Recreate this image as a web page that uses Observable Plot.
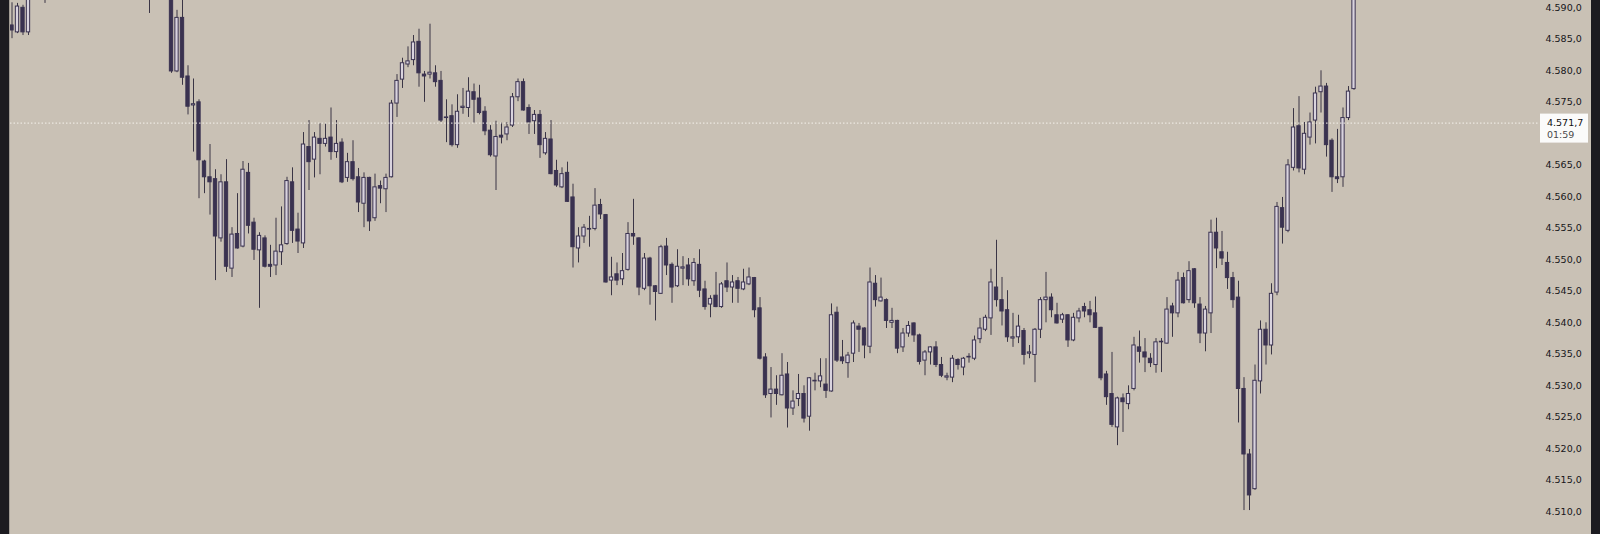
<!DOCTYPE html>
<html>
<head>
<meta charset="utf-8">
<script src="https://cdn.jsdelivr.net/npm/d3@7"></script>
<script src="https://cdn.jsdelivr.net/npm/@observablehq/plot@0.6"></script>
<style>
  html, body { margin: 0; padding: 0; background: #1c1b20; }
  #chart { width: 1600px; height: 534px; overflow: hidden; }
  #chart svg { display: block; }
</style>
</head>
<body>
<div id="chart"></div>
<script>
// candle index (bar number), open, high, low, close
const idx = [0,1,2,3,6,25,29,30,31,32,33,34,35,36,37,38,39,40,41,42,43,44,45,46,47,48,49,50,51,52,53,54,55,56,57,58,59,60,61,62,63,64,65,66,67,68,69,70,71,72,73,74,75,76,77,78,79,80,81,82,83,84,85,86,87,88,89,90,91,92,93,94,95,96,97,98,99,100,101,102,103,104,105,106,107,108,109,110,111,112,113,114,115,116,117,118,119,120,121,122,123,124,125,126,127,128,129,130,131,132,133,134,135,136,137,138,139,140,141,142,143,144,145,146,147,148,149,150,151,152,153,154,155,156,157,158,159,160,161,162,163,164,165,166,167,168,169,170,171,172,173,174,175,176,177,178,179,180,181,182,183,184,185,186,187,188,189,190,191,192,193,194,195,196,197,198,199,200,201,202,203,204,205,206,207,208,209,210,211,212,213,214,215,216,217,218,219,220,221,222,223,224,225,226,227,228,229,230,231,232,233,234,235,236,237,238,239,240,241,242,243,244];
const open = [4587.2,4586.1,4590.0,4586.1,4595.0,4596.0,4593.0,4579.9,4588.4,4579.1,4574.5,4575.0,4565.6,4563.1,4562.8,4553.4,4562.3,4548.6,4554.1,4552.1,4563.8,4555.9,4551.5,4553.4,4549.2,4549.1,4551.2,4552.5,4562.3,4554.8,4552.6,4567.9,4565.9,4569.2,4568.4,4569.4,4567.1,4568.6,4563.0,4565.5,4563.1,4558.9,4563.0,4556.6,4561.7,4561.2,4563.1,4574.8,4578.6,4581.0,4581.7,4584.6,4579.4,4579.4,4579.6,4578.4,4572.5,4572.8,4568.2,4574.1,4574.1,4576.6,4575.6,4573.5,4570.5,4566.4,4569.7,4569.9,4571.3,4575.8,4578.2,4574.1,4572.0,4573.0,4566.9,4569.1,4564.1,4561.5,4563.8,4559.9,4551.8,4553.7,4554.9,4554.9,4558.7,4557.1,4546.7,4547.7,4546.9,4548.4,4554.1,4553.4,4545.4,4550.2,4545.8,4544.6,4552.1,4549.2,4545.8,4548.6,4549.1,4546.6,4549.2,4545.3,4542.9,4544.3,4542.5,4546.6,4545.6,4546.6,4545.3,4546.1,4547.1,4542.3,4534.5,4528.7,4529.4,4528.5,4531.8,4526.4,4527.9,4528.7,4525.1,4530.7,4530.7,4530.2,4529.1,4541.6,4534.5,4533.6,4535.1,4539.4,4539.1,4536.2,4546.2,4543.4,4543.6,4540.0,4540.3,4536.1,4538.3,4539.9,4538.0,4534.0,4535.3,4536.1,4533.3,4531.3,4531.3,4534.1,4532.9,4534.5,4534.3,4537.4,4538.9,4540.7,4545.6,4543.6,4542.0,4537.5,4537.7,4538.7,4535.1,4534.9,4538.9,4543.6,4544.0,4541.2,4540.5,4541.2,4537.2,4540.7,4542.5,4542.0,4541.5,4539.2,4531.8,4528.7,4523.4,4528.0,4527.1,4529.5,4536.1,4535.3,4534.3,4533.3,4536.9,4536.7,4542.6,4541.5,4547.1,4543.6,4548.5,4542.9,4538.3,4541.5,4554.3,4551.2,4549.5,4547.1,4544.0,4529.5,4519.1,4513.6,4530.7,4538.9,4536.4,4544.8,4558.2,4554.6,4564.6,4571.2,4564.3,4569.4,4572.1,4576.6,4577.5,4568.9,4563.1,4563.1,4572.5,4577.1];
const high = [4590.8,4590.7,4590.4,4593.0,4597.0,4598.0,4595.0,4589.6,4591.7,4580.8,4578.7,4575.4,4565.8,4568.3,4564.3,4563.5,4565.9,4555.1,4560.5,4565.6,4565.3,4556.6,4554.3,4553.8,4552.3,4556.6,4558.4,4563.1,4564.6,4557.4,4570.2,4572.1,4570.2,4571.6,4571.6,4574.1,4572.1,4569.2,4566.9,4568.9,4564.5,4563.8,4563.1,4563.6,4562.5,4563.6,4575.3,4579.4,4582.0,4583.8,4585.6,4586.6,4579.9,4587.4,4580.8,4579.9,4575.4,4574.6,4576.2,4577.2,4578.9,4577.9,4577.7,4574.3,4571.3,4572.0,4571.7,4571.8,4576.4,4578.7,4578.7,4574.6,4573.7,4573.7,4570.2,4572.1,4565.8,4564.6,4565.5,4562.0,4555.1,4555.6,4556.9,4561.3,4559.6,4557.2,4550.4,4549.5,4551.0,4555.9,4559.6,4553.5,4551.0,4550.4,4545.9,4552.3,4553.4,4549.5,4551.6,4550.5,4550.2,4550.2,4551.6,4546.6,4544.3,4548.0,4546.4,4549.5,4547.5,4547.2,4548.5,4548.7,4547.2,4544.0,4535.1,4532.9,4531.6,4535.1,4533.7,4529.2,4531.8,4530.0,4531.3,4532.0,4534.3,4534.3,4543.0,4542.5,4537.2,4535.3,4540.3,4539.9,4539.2,4548.7,4547.5,4547.1,4543.8,4542.3,4540.4,4539.1,4540.2,4540.0,4538.2,4535.6,4536.2,4537.0,4534.5,4532.0,4534.8,4534.3,4534.5,4535.1,4537.9,4540.7,4541.2,4548.5,4553.1,4547.2,4545.1,4541.5,4541.2,4539.1,4536.4,4539.1,4544.0,4548.0,4544.6,4543.1,4541.5,4541.3,4541.5,4542.3,4543.1,4543.4,4544.1,4539.3,4532.3,4535.3,4528.2,4528.7,4530.0,4537.7,4538.7,4537.5,4535.1,4537.5,4537.5,4544.0,4543.1,4548.0,4547.9,4549.7,4548.6,4544.0,4542.6,4556.3,4556.6,4554.5,4551.2,4548.0,4546.6,4531.3,4519.9,4533.3,4540.3,4540.0,4546.2,4559.1,4559.9,4565.9,4574.0,4575.9,4571.8,4573.3,4577.4,4580.0,4578.0,4569.2,4570.7,4574.1,4577.5,4594.0];
const low = [4585.1,4585.9,4585.6,4585.6,4590.7,4589.1,4579.6,4579.7,4577.7,4573.0,4567.1,4559.7,4560.5,4557.1,4546.7,4552.8,4548.0,4547.2,4551.7,4551.9,4554.1,4549.9,4542.3,4548.7,4547.2,4547.5,4549.1,4552.3,4552.6,4551.0,4551.8,4561.0,4563.0,4563.5,4567.9,4565.8,4566.1,4562.1,4562.3,4562.5,4557.5,4555.1,4554.5,4556.1,4558.9,4557.5,4563.0,4572.6,4577.2,4580.5,4580.8,4577.4,4575.0,4578.7,4577.4,4571.8,4568.6,4567.9,4567.7,4573.1,4572.6,4571.7,4573.0,4569.7,4566.3,4561.0,4568.4,4568.9,4571.0,4575.1,4573.6,4569.9,4569.9,4566.1,4566.6,4563.5,4561.5,4561.3,4559.1,4548.7,4549.5,4552.6,4552.0,4554.6,4556.4,4546.3,4544.3,4545.9,4545.9,4548.2,4552.3,4544.3,4545.1,4542.8,4540.3,4544.5,4547.5,4543.1,4545.6,4545.9,4545.8,4545.8,4544.0,4542.0,4540.8,4542.4,4542.3,4544.8,4543.1,4543.1,4545.1,4545.9,4540.8,4534.1,4528.0,4524.9,4526.9,4528.4,4523.3,4525.3,4526.7,4524.1,4522.8,4529.2,4529.7,4528.0,4529.0,4533.7,4533.4,4531.2,4533.7,4535.3,4534.3,4535.1,4542.5,4543.3,4539.1,4539.1,4535.1,4535.3,4537.7,4536.9,4533.3,4531.6,4533.3,4532.9,4531.3,4530.8,4530.5,4532.5,4531.6,4533.6,4534.0,4536.7,4538.6,4538.0,4542.5,4539.5,4536.9,4536.1,4536.7,4533.3,4534.3,4530.5,4537.5,4540.0,4540.8,4539.8,4539.9,4536.1,4537.0,4540.0,4540.8,4540.0,4539.1,4530.8,4526.9,4523.4,4520.5,4522.6,4526.2,4529.2,4533.6,4532.1,4532.9,4532.0,4532.1,4536.6,4537.7,4540.8,4543.0,4543.1,4542.3,4536.7,4535.4,4538.3,4548.6,4549.1,4545.3,4542.3,4524.1,4510.2,4510.2,4513.4,4528.7,4533.3,4534.9,4544.3,4552.5,4554.3,4564.1,4563.8,4563.5,4568.2,4568.4,4573.3,4566.3,4560.7,4562.1,4561.5,4572.1,4576.9];
const close = [4586.4,4590.2,4586.1,4592.5,4593.0,4594.0,4579.9,4588.4,4578.9,4574.3,4574.7,4565.8,4563.1,4562.3,4553.7,4562.3,4548.9,4554.0,4551.8,4564.3,4555.4,4551.6,4553.8,4548.9,4548.9,4551.3,4552.3,4562.5,4554.6,4552.9,4568.3,4565.5,4569.4,4568.4,4569.2,4567.1,4568.4,4562.3,4565.5,4562.8,4559.1,4563.0,4556.1,4561.5,4561.3,4563.0,4574.8,4578.4,4581.2,4581.5,4584.5,4579.6,4579.1,4579.7,4578.2,4572.1,4572.6,4568.2,4573.5,4574.3,4576.7,4575.4,4573.3,4570.4,4566.6,4569.5,4569.4,4571.0,4575.8,4578.2,4573.7,4571.8,4573.0,4568.2,4569.2,4563.6,4561.8,4563.6,4559.2,4552.0,4553.7,4555.1,4554.8,4558.6,4557.2,4546.4,4547.2,4546.7,4548.2,4554.1,4553.7,4545.6,4550.2,4545.8,4544.9,4552.0,4549.1,4545.6,4548.9,4548.8,4546.9,4549.5,4545.1,4542.5,4543.8,4542.5,4546.1,4545.6,4546.4,4545.4,4546.4,4547.2,4542.0,4534.3,4528.5,4529.4,4528.7,4531.6,4526.4,4527.5,4528.7,4524.8,4531.2,4530.8,4531.5,4529.2,4541.2,4534.0,4533.9,4534.8,4539.9,4538.9,4536.4,4546.4,4543.6,4544.0,4540.3,4540.3,4535.9,4538.3,4539.5,4538.0,4533.8,4535.3,4536.1,4533.3,4531.6,4531.5,4534.3,4533.3,4534.3,4534.6,4537.2,4539.1,4540.8,4546.4,4543.6,4541.8,4537.7,4537.7,4539.4,4534.9,4535.3,4538.9,4543.6,4544.0,4542.0,4539.9,4541.2,4537.2,4540.8,4541.8,4541.8,4541.2,4539.2,4531.2,4528.2,4523.8,4528.0,4527.4,4528.7,4536.4,4535.4,4534.5,4533.6,4536.9,4537.0,4542.1,4541.5,4546.7,4543.1,4548.2,4543.1,4538.3,4542.1,4554.3,4551.8,4550.2,4547.1,4543.6,4529.5,4519.1,4512.6,4530.8,4538.9,4536.4,4544.6,4558.4,4555.1,4565.0,4571.0,4564.5,4570.0,4571.8,4576.4,4577.5,4568.2,4563.1,4562.8,4572.5,4576.7,4593.0];

// price scale tick labels (4.570,0 sits under the price tag) and current price tag
const yTicks = [4510,4515,4520,4525,4530,4535,4540,4545,4550,4555,4560,4565,4575,4580,4585,4590];
const lastPrice = 4571.7;
const lastTimer = "01:59";

const rows = idx.map((i, k) => ({i, open: open[k], high: high[k], low: low[k], close: close[k]}));

const fmt = d3.formatLocale({decimal: ",", thousands: ".", grouping: [3], currency: ["", ""]}).format(",.1f");

const DARK = "#3a3250";
const LIGHT = "#d9d3de";
const WICK = "#3a3545";
const FONT = "'DejaVu Sans', Verdana, sans-serif";

const chart = Plot.plot({
  width: 1600,
  height: 534,
  marginLeft: 10,
  marginRight: 62,
  marginTop: 0,
  marginBottom: 0,
  style: {background: "transparent", fontFamily: FONT, fontSize: "9.5px", color: "#161519", overflow: "hidden"},
  x: {domain: [-0.273, 277.545], axis: null},
  y: {domain: [4506.40, 4591.16], axis: null},
  marks: [
    Plot.ruleX(rows, {x: "i", y1: "low", y2: "high", stroke: WICK, strokeWidth: 1, clip: true}),
    Plot.rect(rows, {
      x1: d => d.i - 0.3, x2: d => d.i + 0.3,
      y1: "open", y2: "close",
      fill: d => d.close >= d.open ? LIGHT : DARK,
      stroke: DARK, strokeWidth: 1, clip: true
    }),
    Plot.ruleY([lastPrice], {stroke: "#f5f2ec", strokeWidth: 1, strokeDasharray: "1.5,2"}),
    Plot.axisY({ticks: yTicks, anchor: "right", tickSize: 0, tickPadding: 7, tickFormat: fmt, textAnchor: "start", fill: "#161519"}),
    (index, scales, values, dims) => {
      const y = scales.y(lastPrice);
      const x0 = dims.width - dims.marginRight + 2;
      const g = d3.create("svg:g").attr("text-anchor", "start");
      g.append("rect").attr("x", x0).attr("y", y - 9).attr("width", 48).attr("height", 29).attr("fill", "#fbfbfa");
      g.append("text").attr("x", x0 + 7).attr("y", y).attr("dy", "0.36em").attr("text-anchor", "start")
        .style("font-family", FONT).style("font-size", "9.5px").attr("fill", "#111").text(fmt(lastPrice));
      g.append("text").attr("x", x0 + 7).attr("y", y + 11.5).attr("dy", "0.36em").attr("text-anchor", "start")
        .style("font-family", FONT).style("font-size", "9.5px").attr("fill", "#4a4a4a").text(lastTimer);
      return g.node();
    }
  ]
});
chart.style.background = "linear-gradient(to right, #1c1b20 0px, #1c1b20 9px, #a29c95 9px, #a29c95 10px, #c9c1b5 10px, #c9c1b5 1591px, #1c1b20 1591px)";
document.getElementById("chart").appendChild(chart);
</script>
</body>
</html>
